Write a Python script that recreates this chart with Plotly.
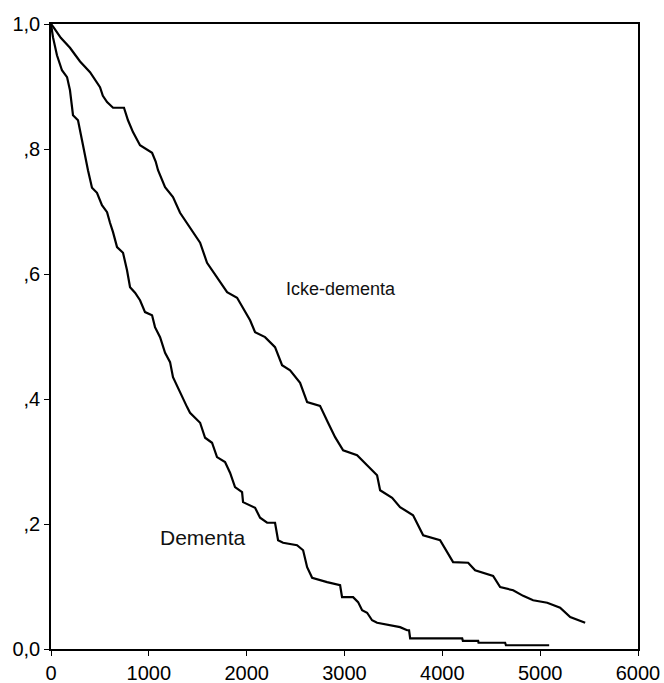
import plotly.graph_objects as go

# Kaplan-Meier survival estimates (days, cumulative survival)
icke_days = [0, 25, 100, 194, 250, 297, 399, 501, 530, 573, 634, 746, 787, 838, 910,
             1033, 1070, 1094, 1166, 1247, 1319, 1421, 1524, 1595, 1728, 1800, 1902,
             2035, 2086, 2188, 2290, 2362, 2444, 2546, 2618, 2750, 2832, 2904, 2986,
             3129, 3231, 3333, 3364, 3487, 3568, 3701, 3804, 3977, 4110, 4264, 4335,
             4519, 4591, 4724, 4826, 4928, 5072, 5204, 5307, 5460]
icke_surv = [1.0, 0.995, 0.978, 0.962, 0.950, 0.940, 0.923, 0.899, 0.885, 0.875, 0.866,
             0.866, 0.846, 0.827, 0.806, 0.794, 0.780, 0.766, 0.739, 0.723, 0.698, 0.675,
             0.650, 0.618, 0.587, 0.571, 0.562, 0.526, 0.507, 0.499, 0.483, 0.454, 0.446,
             0.426, 0.395, 0.389, 0.362, 0.339, 0.318, 0.310, 0.294, 0.278, 0.254, 0.242,
             0.227, 0.214, 0.182, 0.174, 0.139, 0.138, 0.126, 0.117, 0.099, 0.094, 0.085,
             0.078, 0.074, 0.066, 0.051, 0.042]

dem_days = [0, 20, 61, 112, 164, 194, 225, 276, 317, 348, 378, 419, 470, 521, 573, 603,
            634, 675, 736, 777, 808, 859, 910, 961, 1033, 1063, 1115, 1166, 1217, 1247,
            1319, 1391, 1421, 1524, 1575, 1646, 1697, 1779, 1830, 1881, 1953, 1963, 2086,
            2137, 2209, 2290, 2321, 2372, 2515, 2577, 2618, 2669, 2822, 2955, 2975, 3088,
            3139, 3180, 3231, 3282, 3333, 3466, 3568, 3640, 3660, 3671, 4203, 4210, 4366,
            4370, 4642, 4650, 5092]
dem_surv = [1.0, 0.979, 0.950, 0.926, 0.915, 0.894, 0.854, 0.846, 0.814, 0.787, 0.766,
            0.738, 0.730, 0.710, 0.699, 0.682, 0.667, 0.643, 0.634, 0.606, 0.579, 0.570,
            0.558, 0.539, 0.534, 0.515, 0.499, 0.474, 0.459, 0.435, 0.410, 0.387, 0.378,
            0.362, 0.338, 0.330, 0.307, 0.299, 0.282, 0.259, 0.251, 0.235, 0.226, 0.210,
            0.202, 0.202, 0.174, 0.170, 0.166, 0.158, 0.131, 0.114, 0.107, 0.102, 0.083,
            0.083, 0.075, 0.062, 0.058, 0.046, 0.042, 0.038, 0.035, 0.030, 0.030, 0.017,
            0.017, 0.013, 0.013, 0.010, 0.010, 0.006, 0.006]

y_tickvals = [0.0, 0.2, 0.4, 0.6, 0.8, 1.0]
y_ticktext = ["0,0", ",2", ",4", ",6", ",8", "1,0"]
x_tickvals = [0, 1000, 2000, 3000, 4000, 5000, 6000]

labels = [("Icke-dementa", 2960, 0.576, 18), ("Dementa", 1554, 0.178, 21)]

fig = go.Figure()
for xs, ys in [(icke_days, icke_surv), (dem_days, dem_surv)]:
    fig.add_trace(go.Scatter(x=xs, y=ys, mode="lines", line_shape="linear",
                             line=dict(color="black", width=2.2), cliponaxis=False,
                             showlegend=False, hoverinfo="skip"))

for text, x, y, fs in labels:
    fig.add_annotation(x=x, y=y, text=text, showarrow=False,
                       font=dict(size=fs, color="#111111", family="Liberation Sans, Arial"))

axis_common = dict(showgrid=False, zeroline=False, showline=True, linecolor="black",
                   linewidth=1.5, mirror=True, ticks="outside", ticklen=5, tickwidth=1.2,
                   tickcolor="black", automargin=False,
                   tickfont=dict(size=20, color="black", family="Liberation Sans, Arial"))

fig.update_xaxes(range=[0, 6000], tickvals=x_tickvals, **axis_common)
fig.update_yaxes(range=[0, 1.0], tickvals=y_tickvals, ticktext=y_ticktext, **axis_common)

fig.update_layout(width=664, height=683, margin=dict(l=51, r=26, t=24, b=34),
                  plot_bgcolor="white", paper_bgcolor="white")

fig.write_html("out.html")
